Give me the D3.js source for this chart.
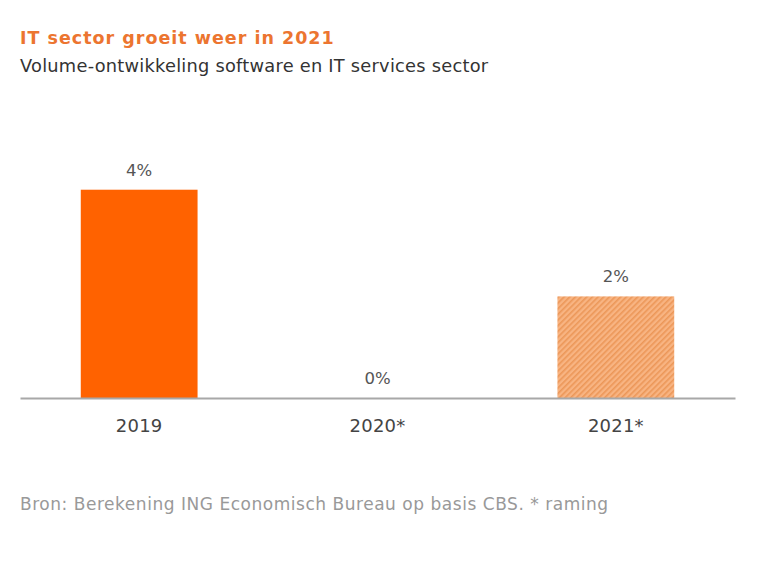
<!DOCTYPE html>
<html><head><meta charset="utf-8">
<script src="https://cdn.jsdelivr.net/npm/d3@7"></script>
<style>body{margin:0;background:#fff}svg{display:block}</style>
</head><body>
<script>
const categories = ["2019", "2020*", "2021*"];
const values = [4.1, 0, 2.0];
const forecast = [false, false, true];
const valueLabels = ["4%", "0%", "2%"];
const title = "IT sector groeit weer in 2021";
const subtitle = "Volume-ontwikkeling software en IT services sector";
const source = "Bron: Berekening ING Economisch Bureau op basis CBS. * raming";

const W = 765, H = 587;
const svg = d3.select("body").append("svg").attr("width", W).attr("height", H);
const font = "'DejaVu Sans', sans-serif";

const defs = svg.append("defs");
const pat = defs.append("pattern").attr("id", "hatch").attr("patternUnits", "userSpaceOnUse")
  .attr("width", 4).attr("height", 4).attr("patternTransform", "rotate(45)");
pat.append("rect").attr("width", 4).attr("height", 4).attr("fill", "#F8B482");
pat.append("rect").attr("width", 1.6).attr("height", 4).attr("fill", "#EC9758");

svg.append("text").attr("x", 20).attr("y", 44).text(title)
  .attr("font-family", font).attr("font-weight", 700).attr("font-size", 17.5)
  .attr("letter-spacing", 1.0).attr("fill", "#EC7530");
svg.append("text").attr("x", 20).attr("y", 72).text(subtitle)
  .attr("font-family", font).attr("font-size", 17.8).attr("letter-spacing", 0.25).attr("fill", "#333");

const x = d3.scaleBand().domain(categories).range([20, 735]).paddingInner(0.51).paddingOuter(0.255);
const y = d3.scaleLinear().domain([0, 5]).range([398, 144]);

svg.selectAll("rect.bar").data(categories).join("rect").attr("class", "bar")
  .attr("x", d => x(d)).attr("width", x.bandwidth())
  .attr("y", (d, i) => y(values[i])).attr("height", (d, i) => y(0) - y(values[i]))
  .attr("fill", (d, i) => forecast[i] ? "url(#hatch)" : "#FF6200");

svg.selectAll("text.val").data(categories).join("text").attr("class", "val")
  .attr("x", d => x(d) + x.bandwidth() / 2).attr("y", (d, i) => y(values[i]) - 14)
  .attr("text-anchor", "middle").text((d, i) => valueLabels[i])
  .attr("font-family", font).attr("font-size", 16.5).attr("fill", "#555");

const axis = svg.append("g").attr("transform", `translate(0,${y(0)})`)
  .call(d3.axisBottom(x).tickSize(0).tickPadding(21));
axis.select(".domain").attr("stroke", "#A8A8A8").attr("stroke-width", 2);
axis.selectAll("text").attr("font-family", font).attr("font-size", 18)
  .attr("letter-spacing", 0.2).attr("fill", "#444");

svg.append("text").attr("x", 20).attr("y", 510).text(source)
  .attr("font-family", font).attr("font-size", 17).attr("letter-spacing", 0.53).attr("fill", "#999");
</script>
</body></html>
